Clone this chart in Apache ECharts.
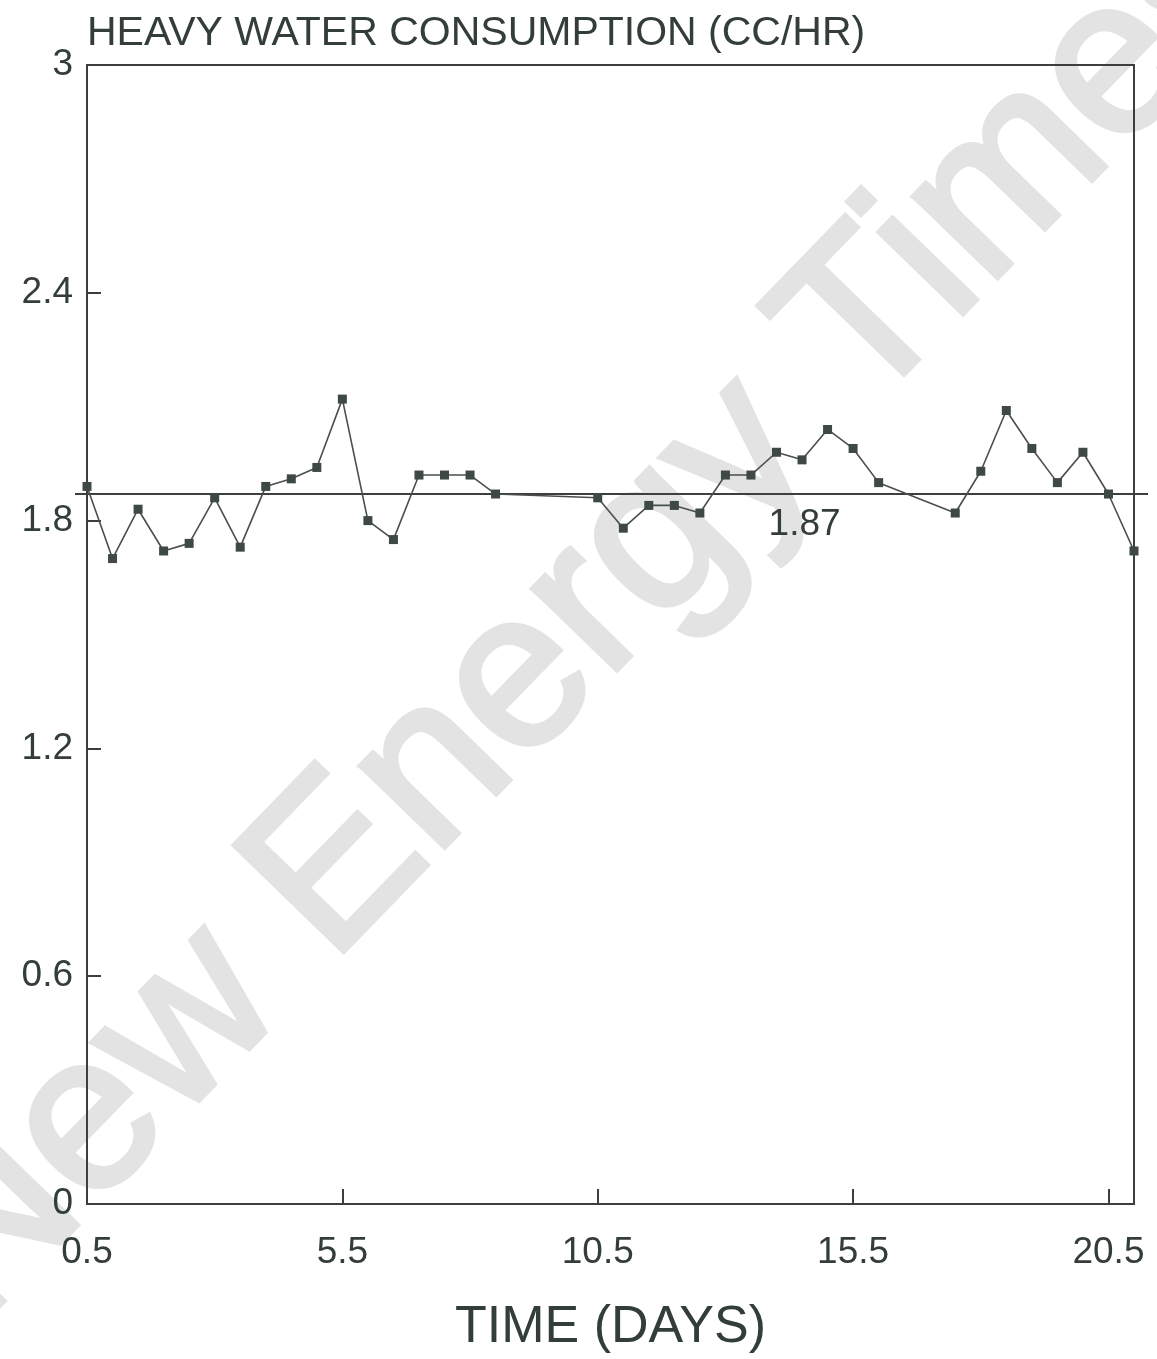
<!DOCTYPE html>
<html>
<head>
<meta charset="utf-8">
<script src="https://cdn.jsdelivr.net/npm/echarts@6/dist/echarts.min.js"></script>
<style>
html,body{margin:0;padding:0;background:#fff;}
#c{width:1157px;height:1359px;}
</style>
</head>
<body>
<div id="c"></div>
<script>
// Data
const days = [0.5, 1.0, 1.5, 2.0, 2.5, 3.0, 3.5, 4.0, 4.5, 5.0, 5.5, 6.0, 6.5, 7.0, 7.5, 8.0, 8.5,
              10.5, 11.0, 11.5, 12.0, 12.5, 13.0, 13.5, 14.0, 14.5, 15.0, 15.5, 16.0,
              17.5, 18.0, 18.5, 19.0, 19.5, 20.0, 20.5, 21.0];
const consumption = [1.89, 1.70, 1.83, 1.72, 1.74, 1.86, 1.73, 1.89, 1.91, 1.94, 2.12, 1.80, 1.75, 1.92, 1.92, 1.92, 1.87,
                     1.86, 1.78, 1.84, 1.84, 1.82, 1.92, 1.92, 1.98, 1.96, 2.04, 1.99, 1.90,
                     1.82, 1.93, 2.09, 1.99, 1.90, 1.98, 1.87, 1.72];
const xTickStart = 0.5, xTickStep = 5, xMax = 21;
const yMin = 0, yStep = 0.6, yMax = 3;
const refValue = 1.87;
const refLabelX = 14.55;

const textColor = '#333d3a';
const lineColor = '#3c3f3e';
const font = 'Liberation Sans, Arial, Helvetica, sans-serif';

const chart = echarts.init(document.getElementById('c'));
chart.setOption({
  animation: false,
  backgroundColor: '#ffffff',
  title: {
    text: 'HEAVY WATER CONSUMPTION (CC/HR)',
    left: 82, top: 8,
    textStyle: { fontFamily: font, fontSize: 41, fontWeight: 'normal', color: textColor }
  },
  graphic: [{
    type: 'text', z: -10, silent: true,
    x: 585, y: 615, rotation: 0.80,
    style: {
      text: 'New Energy Times',
      fontFamily: font, fontSize: 222, fontWeight: 'normal', fill: '#e3e3e3',
      stroke: '#e3e3e3', lineWidth: 5,
      align: 'center', verticalAlign: 'middle'
    }
  }],
  grid: [
    { left: 87, right: 23, top: 65, bottom: 155, show: true, borderColor: lineColor, borderWidth: 2, backgroundColor: 'transparent' },
    { left: 75, right: 9, top: 65, bottom: 155, show: false }
  ],
  xAxis: [{
    type: 'value', gridIndex: 0, min: xTickStart, max: xMax, interval: xTickStep,
    name: 'TIME (DAYS)', nameLocation: 'middle', nameGap: 98,
    nameTextStyle: { fontFamily: font, fontSize: 52, color: textColor },
    axisLine: { lineStyle: { color: lineColor, width: 2 } },
    axisTick: { show: true, inside: true, length: 15, lineStyle: { color: lineColor, width: 2 } },
    axisLabel: { margin: 30, fontFamily: font, fontSize: 37, color: textColor,
      formatter: v => v.toFixed(1), showMinLabel: true, showMaxLabel: false },
    splitLine: { show: false }
  }, {
    type: 'value', gridIndex: 1, min: 0, max: 1, show: false
  }],
  yAxis: [{
    type: 'value', gridIndex: 0, min: yMin, max: yMax, interval: yStep,
    axisLine: { lineStyle: { color: lineColor, width: 2 } },
    axisTick: { show: true, inside: true, length: 14, lineStyle: { color: lineColor, width: 2 } },
    axisLabel: { margin: 14, fontFamily: font, fontSize: 37, color: textColor,
      formatter: v => (Math.abs(v) < 1e-9 || Math.abs(v - 3) < 1e-9) ? String(Math.round(v)) : v.toFixed(1) },
    splitLine: { show: false }
  }, {
    type: 'value', gridIndex: 1, min: 0, max: 3, show: false
  }],
  series: [{
    type: 'line', xAxisIndex: 1, yAxisIndex: 1,
    data: [[0, refValue], [1, refValue]],
    symbol: 'none', lineStyle: { color: lineColor, width: 2 }, z: 3
  }, {
    type: 'line', xAxisIndex: 0, yAxisIndex: 0,
    data: days.map((d, i) => [d, consumption[i]]),
    symbol: 'rect', symbolSize: 9, showAllSymbol: true, clip: false,
    itemStyle: { color: '#3e4845' },
    lineStyle: { color: '#4a4f4d', width: 1.6 }, z: 4
  }, {
    type: 'scatter', xAxisIndex: 0, yAxisIndex: 0,
    data: [[refLabelX, refValue]], symbolSize: 1,
    itemStyle: { opacity: 0 },
    label: { show: true, position: 'bottom', distance: 12, formatter: refValue.toFixed(2),
      fontFamily: font, fontSize: 37, color: textColor, opacity: 1 }
  }]
});
</script>
</body>
</html>
